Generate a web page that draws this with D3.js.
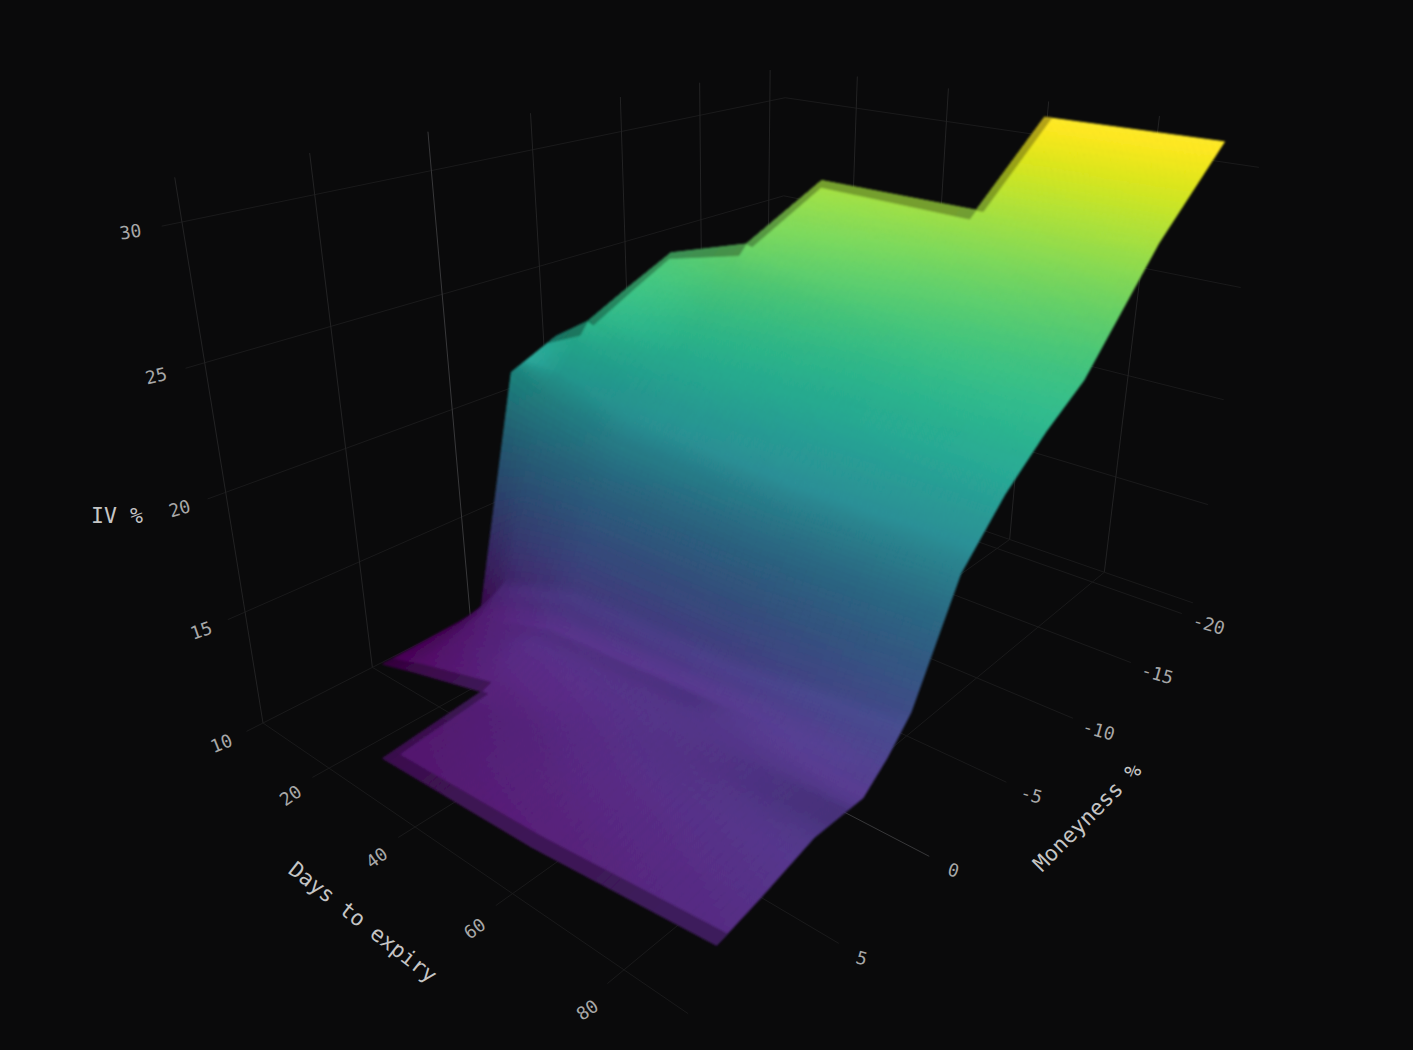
<!DOCTYPE html>
<html>
<head>
<meta charset="utf-8">
<title>IV surface</title>
<script src="https://cdn.jsdelivr.net/npm/d3@7"></script>
<style>
  html, body { margin: 0; background: #0a0a0b; }
  text { font-family: "DejaVu Sans Mono", monospace; }
</style>
</head>
<body>
<div id="chart"></div>
<script>
const daysToExpiry = [6, 14, 31, 62, 93];
const moneyness = [9.4, 7.5, 5, 2.5, 1.25, 0, -2.5, -5, -7.5, -10, -15, -20];

// one row per expiry, same order as moneyness, null where no quote exists
const ivDay6 = [null, null, 10.5, 10.6, 10.65, 10.75, 21.1, 22.0, null, null, null, null];
const ivDay14 = [null, null, 11.0, 11.6, 12.0, 13.1, 20.4, 23.15, 24.1, 25.0, null, null];
const ivDay31 = [11.5, 11.7, 11.96, 12.9, 13.05, 14.4, 19.6, 21.9, 24.0, 26.2, 28.0, null];
const ivDay62 = [11.85, 12.3, 12.9, 13.35, 13.4, 14.5, 19.3, 21.3, 23.1, 24.9, 27.98, 31.05];
const ivDay93 = [12.65, 13.0, 13.56, 13.49, 14.3, 15.37, 19.48, 21.44, 22.9, 24.06, 28.05, 31.06];
const ivRows = [ivDay6, ivDay14, ivDay31, ivDay62, ivDay93];

const dayTicks = [20, 40, 60, 80];
const moneyTicks = [5, 0, -5, -10, -15, -20];
const ivTicks = [10, 15, 20, 25, 30];

const width = 1413;
const height = 1050;

// scene box, in unit coordinates
const dayScale = d3.scaleLinear().domain([2.86, 94]).range([0, 1]);
const moneyScale = d3.scaleLinear().domain([9.9, -21.18]).range([0, 1]);
const ivScale = d3.scaleLinear().domain([10, 15]).range([0, 1]);
const ivTop = 31.5;

// perspective camera as a 3x4 matrix on the unit coordinates
const camX = [263, 267.06, 854.9, -26.94];
const camY = [723, 43.8, -63.7, -133.4];
const camW = [1, -0.25553, 0.43325, -0.0367];

function projectUnit(u, v, w) {
  const d = camW[0] + camW[1] * u + camW[2] * v + camW[3] * w;
  return [
    (camX[0] + camX[1] * u + camX[2] * v + camX[3] * w) / d,
    (camY[0] + camY[1] * u + camY[2] * v + camY[3] * w) / d,
    d
  ];
}
const project = (day, money, iv) => projectUnit(dayScale(day), moneyScale(money), ivScale(iv));

const allIv = ivRows.flat().filter(d => d !== null);
const ivExtent = d3.extent(allIv);
const ivRange = ivExtent[1] - ivExtent[0];
const color = d3.scaleSequential(d3.interpolateViridis).domain(ivExtent);

const svg = d3.select('#chart')
  .append('svg')
  .attr('width', width)
  .attr('height', height)
  .attr('viewBox', [0, 0, width, height])
  .style('display', 'block');

svg.append('rect').attr('width', width).attr('height', height).attr('fill', '#0a0a0b');

svg.append('defs').append('filter')
  .attr('id', 'soft')
  .append('feGaussianBlur')
  .attr('stdDeviation', 0.8);

// ---- grid ----
const gridLines = [];
const addLine = (a, b, stroke) => gridLines.push({ a, b, stroke });
const dayMin = dayScale.domain()[0];
const moneyHigh = moneyScale.domain()[0], moneyLow = moneyScale.domain()[1];
const dayStub = dayScale.invert(1.035);
const moneyStub = moneyScale.invert(-0.022);
const faint = '#1a1a1b', mid = '#232324', zero = '#38383a';

ivTicks.forEach(t => {
  addLine([dayMin, moneyStub, t], [dayMin, moneyLow, t], faint);
  addLine([dayMin, moneyLow, t], [dayStub, moneyLow, t], faint);
});
moneyTicks.forEach(m => {
  const c = m === 0 ? zero : mid;
  addLine([dayMin, m, 10], [dayMin, m, ivTop], c);
  addLine([dayMin, m, 10], [dayStub, m, 10], m === 0 ? zero : faint);
});
dayTicks.forEach(d => {
  addLine([d, moneyLow, 10], [d, moneyLow, ivTop], mid);
  addLine([d, moneyStub, 10], [d, moneyLow, 10], faint);
});
addLine([dayMin, moneyHigh, 10], [dayMin, moneyHigh, ivTop], mid);
addLine([dayMin, moneyHigh, 10], [dayScale.invert(0.96), moneyHigh, 10], faint);

svg.append('g')
  .selectAll('line')
  .data(gridLines)
  .join('line')
  .attr('x1', d => project(...d.a)[0])
  .attr('y1', d => project(...d.a)[1])
  .attr('x2', d => project(...d.b)[0])
  .attr('y2', d => project(...d.b)[1])
  .attr('stroke', d => d.stroke)
  .attr('stroke-width', 1);

// ---- surface ----
const hasCell = (i, j) => i >= 0 && j >= 0 && i < ivRows.length - 1 && j < moneyness.length - 1
  && ivRows[i][j] !== null && ivRows[i + 1][j] !== null
  && ivRows[i][j + 1] !== null && ivRows[i + 1][j + 1] !== null;

// slopes of one cell in scene units, v across moneyness, u across expiries
function slopeV(i, j, s) {
  const dv = moneyScale(moneyness[j + 1]) - moneyScale(moneyness[j]);
  return ((ivRows[i][j + 1] - ivRows[i][j]) * (1 - s) + (ivRows[i + 1][j + 1] - ivRows[i + 1][j]) * s) / dv / ivRange;
}
function slopeU(i, j, t) {
  const du = dayScale(daysToExpiry[i + 1]) - dayScale(daysToExpiry[i]);
  return ((ivRows[i + 1][j] - ivRows[i][j]) * (1 - t) + (ivRows[i + 1][j + 1] - ivRows[i][j + 1]) * t) / du / ivRange;
}

// soften the crease between neighbouring cells over a short run
const creaseRun = 0.35;
function blendEdge(p, here, prev, next) {
  if (p < creaseRun && prev !== null) {
    const k = 0.5 * (1 - p / creaseRun);
    return here * (1 - k) + prev * k;
  }
  if (p > 1 - creaseRun && next !== null) {
    const k = 0.5 * (1 - (1 - p) / creaseRun);
    return here * (1 - k) + next * k;
  }
  return here;
}

function cellLight(i, j, s, t) {
  const dv = blendEdge(t, slopeV(i, j, s),
    hasCell(i, j - 1) ? slopeV(i, j - 1, s) : null,
    hasCell(i, j + 1) ? slopeV(i, j + 1, s) : null);
  const du = blendEdge(s, slopeU(i, j, t),
    hasCell(i - 1, j) ? slopeU(i - 1, j, t) : null,
    hasCell(i + 1, j) ? slopeU(i + 1, j, t) : null);
  return (0.5 * dv + 0.866) / Math.hypot(du, dv, 1);
}

function cellPoint(i, j, s, t) {
  const q = ivRows[i][j] * (1 - s) * (1 - t) + ivRows[i + 1][j] * s * (1 - t)
    + ivRows[i][j + 1] * (1 - s) * t + ivRows[i + 1][j + 1] * s * t;
  const day = daysToExpiry[i] + (daysToExpiry[i + 1] - daysToExpiry[i]) * s;
  const money = moneyness[j] + (moneyness[j + 1] - moneyness[j]) * t;
  return { p: project(day, money, q), iv: q };
}

function shade(iv, light, dim) {
  const c = d3.rgb(color(iv));
  const t = (iv - ivExtent[0]) / ivRange;
  const gain = 1 + (0.08 + 1.05 * light - 1) * (1 - t * t);
  const add = Math.pow(Math.max(light, 0), 6);
  return d3.rgb(
    (c.r * gain + 10 * add) * dim,
    (c.g * gain + 3 * add) * dim,
    (c.b * gain + 3 * add) * dim
  ).formatHex();
}

function quadsForCell(i, j, s0, s1, t0, t1, ns, nt, dim, out) {
  for (let a = 0; a < ns; a++) {
    for (let b = 0; b < nt; b++) {
      const sa = s0 + (s1 - s0) * a / ns, sb = s0 + (s1 - s0) * (a + 1) / ns;
      const ta = t0 + (t1 - t0) * b / nt, tb = t0 + (t1 - t0) * (b + 1) / nt;
      const sm = (sa + sb) / 2, tm = (ta + tb) / 2;
      const c = cellPoint(i, j, sm, tm);
      out.push({
        pts: [cellPoint(i, j, sa, ta).p, cellPoint(i, j, sb, ta).p, cellPoint(i, j, sb, tb).p, cellPoint(i, j, sa, tb).p],
        depth: c.p[2],
        fill: shade(c.iv, cellLight(i, j, sm, tm), dim)
      });
    }
  }
}

const surfaceQuads = [];
const lipQuads = [];
const lipDays = 1.3, lipMoney = 0.45, lipDim = 0.7;

for (let i = 0; i < ivRows.length - 1; i++) {
  for (let j = 0; j < moneyness.length - 1; j++) {
    if (!hasCell(i, j)) continue;
    const dd = daysToExpiry[i + 1] - daysToExpiry[i];
    const dm = Math.abs(moneyness[j + 1] - moneyness[j]);
    const ns = Math.ceil(dd * 0.7), nt = Math.ceil(dm * 11);
    quadsForCell(i, j, 0, 1, 0, 1, ns, nt, 1, surfaceQuads);
    if (i > 0 && !hasCell(i - 1, j)) quadsForCell(i, j, 0, lipDays / dd, 0, 1, 1, nt, lipDim, lipQuads);
    if (!hasCell(i, j - 1)) quadsForCell(i, j, 0, 1, 0, lipMoney / dm, ns, 1, lipDim, lipQuads);
    if (j + 1 < moneyness.length - 1 && !hasCell(i, j + 1)) quadsForCell(i, j, 0, 1, 1 - lipMoney / dm, 1, ns, 1, lipDim, lipQuads);
  }
}

surfaceQuads.sort((a, b) => d3.descending(a.depth, b.depth));

const quadPath = d => 'M' + d.pts.map(p => p[0].toFixed(2) + ',' + p[1].toFixed(2)).join('L') + 'Z';

svg.append('g')
  .attr('class', 'surface')
  .attr('filter', 'url(#soft)')
  .selectAll('path')
  .data(surfaceQuads.concat(lipQuads))
  .join('path')
  .attr('d', quadPath)
  .attr('fill', d => d.fill)
  .attr('stroke', d => d.fill)
  .attr('stroke-width', 0.9)
  .attr('stroke-linejoin', 'round');

// ---- labels ----
const tickColor = '#a8a8a8';
const tickSize = 18;

function tickLabel(text, pos, angle) {
  svg.append('text')
    .attr('transform', `translate(${pos[0]},${pos[1]}) rotate(${angle})`)
    .attr('text-anchor', 'middle')
    .attr('dominant-baseline', 'central')
    .attr('font-size', tickSize)
    .attr('fill', tickColor)
    .text(text);
}

const labelMoney = moneyScale.invert(-0.055);
ivTicks.forEach(t => {
  const a = project(dayMin, moneyHigh, t);
  const b = project(dayMin, moneyScale.invert(0.3), t);
  const angle = Math.atan2(b[1] - a[1], b[0] - a[0]) * 180 / Math.PI;
  const p = project(dayMin, labelMoney, t);
  tickLabel(t, [p[0], p[1] - 1], angle * 0.8);
});
dayTicks.forEach(d => {
  const p = project(dayScale.invert(dayScale(d) + 0.01), labelMoney, 10);
  tickLabel(d, [p[0], p[1] + 1], -35);
});
moneyTicks.forEach(m => {
  const p = project(dayScale.invert(1.07 + 0.02 * moneyScale(m)), m, 10);
  tickLabel(m, [p[0], p[1] + 1], 16);
});

function axisTitle(text, x, y, angle) {
  svg.append('text')
    .attr('transform', `translate(${x},${y}) rotate(${angle})`)
    .attr('text-anchor', 'middle')
    .attr('dominant-baseline', 'central')
    .attr('font-size', 21.5)
    .attr('fill', '#c6c6c6')
    .text(text);
}
axisTitle('Days to expiry', 363, 922, 38);
axisTitle('Moneyness %', 1087, 817, -45);
axisTitle('IV %', 117, 515, 0);
</script>
</body>
</html>
